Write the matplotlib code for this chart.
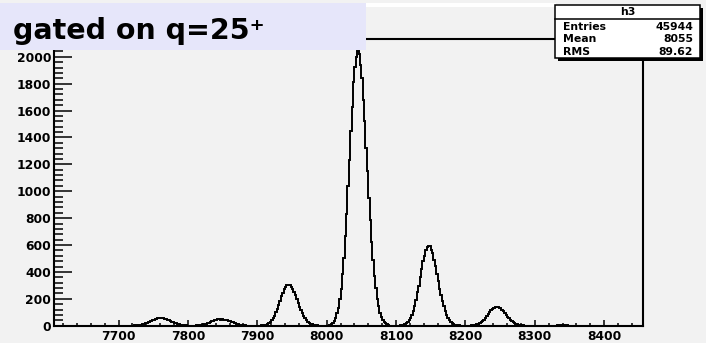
import numpy as np
import matplotlib
matplotlib.use('Agg')
import matplotlib.pyplot as plt
from matplotlib.patches import Rectangle

# histogram binning (2 units per bin)
x_lo, x_hi, bin_w = 7608, 8456, 2

# counts, one list per peak with the left edge of its first bin
peak1_start = 7722
peak1 = [2, 2, 3, 4, 6, 8, 10, 13, 17, 21, 25, 30, 35, 39, 44, 48, 52, 55, 56, 58,
         56, 54, 53, 48, 45, 40, 35, 30, 25, 21, 17, 13, 10, 8, 6, 4, 3, 2, 1, 1]
peak2_start = 7810
peak2 = [1, 2, 3, 4, 5, 7, 9, 12, 15, 19, 23, 28, 32, 37, 41, 45, 47, 48, 46, 47,
         45, 44, 42, 40, 38, 34, 30, 26, 22, 18, 14, 11, 8, 6, 4, 3, 2, 1, 1]
peak3_start = 7904
peak3 = [1, 2, 3, 6, 8, 14, 19, 30, 40, 58, 75, 100, 123, 156, 183, 218, 242, 271, 287, 300,
         305,
         302, 290, 276, 251, 228, 197, 172, 141, 118, 92, 74, 55, 42, 29, 22, 14, 10, 7, 4, 3, 2, 1]
peak4_start = 8004
peak4 = [6, 15, 21, 38, 57, 92, 133, 199, 270, 383, 505, 665, 832, 1040, 1230, 1450, 1625, 1810,
         1925, 2000,
         2040,
         2020, 1940, 1840, 1680, 1525, 1325, 1150, 950, 785, 620, 492, 368, 278, 197, 145, 96, 68,
         44, 30, 17, 11, 5]
peak5_start = 8106
peak5 = [2, 4, 6, 11, 18, 25, 40, 56, 82, 109, 150, 190, 247, 298, 364, 418, 480, 522, 566, 585,
         595,
         590, 565, 538, 490, 445, 386, 335, 276, 230, 180, 144, 106, 81, 57, 43, 28, 20, 13, 8, 5, 3, 2]
peak6_start = 8204
peak6 = [1, 1, 2, 3, 4, 7, 9, 13, 20, 26, 36, 45, 59, 71, 87, 99, 115, 124, 135, 139,
         142,
         141, 134, 129, 117, 107, 92, 81, 66, 55, 43, 33, 26, 19, 14, 10, 7, 5, 3, 2, 1, 1]
bump_start = 8330
bump = [1, 2, 3, 4, 4, 3, 4, 3, 2, 1]

x_ticks = [7700, 7800, 7900, 8000, 8100, 8200, 8300, 8400]
y_ticks = [0, 200, 400, 600, 800, 1000, 1200, 1400, 1600, 1800, 2000]

stats_name = 'h3'
stats_rows = [('Entries', '45944'), ('Mean', '8055'), ('RMS', '89.62')]
title = 'gated on q=25\u207a'

edges = np.arange(x_lo, x_hi + bin_w, bin_w)
counts = np.zeros(len(edges) - 1)
for start, vals in [(peak1_start, peak1), (peak2_start, peak2), (peak3_start, peak3),
                    (peak4_start, peak4), (peak5_start, peak5), (peak6_start, peak6),
                    (bump_start, bump)]:
    i0 = (start - x_lo) // bin_w
    counts[i0:i0 + len(vals)] += vals

W, H = 706, 343
bg = '#f2f2f2'
fig = plt.figure(figsize=(W / 100, H / 100), dpi=100, facecolor=bg)

def fx(px):
    return px / W

def fy(py):
    return 1 - py / H

ax = fig.add_axes([fx(54), fy(325.7), fx(643 - 54), (325.7 - 39.3) / H])
ax.set_facecolor(bg)
ax.stairs(counts, edges, color='black', linewidth=1.4)
ax.set_xlim(x_lo - 1, x_hi)
ax.set_ylim(0, 2130)

ax.set_xticks(x_ticks)
ax.set_yticks(y_ticks)
ax.set_xticks(np.arange(7620, 8456, 20), minor=True)
ax.set_yticks(np.arange(0, 2130, 40), minor=True)
ax.tick_params(axis='y', which='major', direction='in', length=13, width=1.1, pad=2,
               labelsize=8.8)
ax.tick_params(axis='y', which='minor', direction='in', length=6.5, width=1.1)
ax.tick_params(axis='x', which='major', direction='in', length=4.3, width=1.1, pad=3,
               labelsize=8.8)
ax.tick_params(axis='x', which='minor', direction='in', length=2.2, width=1.1)
for lab in ax.get_xticklabels() + ax.get_yticklabels():
    lab.set_fontweight('bold')
for sp in ax.spines.values():
    sp.set_linewidth(1.5)

# title pad
fig.add_artist(Rectangle((fx(366), fy(7)), fx(556 - 366), 4 / H, transform=fig.transFigure,
                         facecolor='white', edgecolor='none', zorder=4))
fig.add_artist(Rectangle((0, fy(49.5)), fx(366), 46.8 / H, transform=fig.transFigure,
                         facecolor='#e6e6fa', edgecolor='none', zorder=5))
fig.text(fx(13), fy(39), title, fontsize=20.5, fontweight='bold', va='baseline',
         ha='left', zorder=6)

# stats box
fig.add_artist(Rectangle((fx(558), fy(61)), fx(145), 53 / H, transform=fig.transFigure,
                         facecolor='black', edgecolor='none', zorder=5))
fig.add_artist(Rectangle((fx(555), fy(58)), fx(145), 53 / H, transform=fig.transFigure,
                         facecolor='white', edgecolor='black', linewidth=1.1, zorder=6))
fig.add_artist(plt.Line2D([fx(555), fx(700)], [fy(19), fy(19)], transform=fig.transFigure,
                          color='black', linewidth=1.1, zorder=7))
fig.text(fx(627.5), fy(12), stats_name, fontsize=7.8, fontweight='bold', ha='center',
         va='center', zorder=8)
for i, (name, val) in enumerate(stats_rows):
    y = fy(27 + 12.5 * i)
    fig.text(fx(563), y, name, fontsize=7.8, fontweight='bold', ha='left', va='center', zorder=8)
    fig.text(fx(693), y, val, fontsize=7.8, fontweight='bold', ha='right', va='center', zorder=8)

fig.savefig('out.png', dpi=100, facecolor=bg)
